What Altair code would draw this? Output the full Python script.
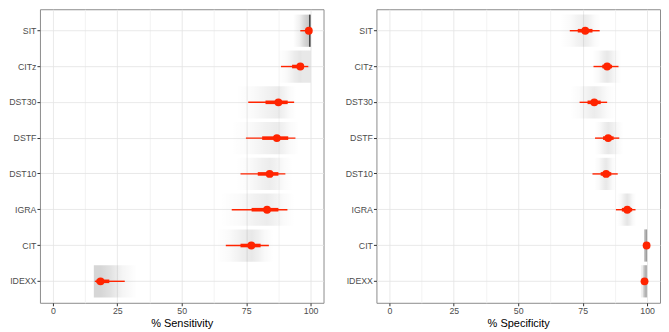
import altair as alt
import pandas as pd

tests = ["SIT", "CITz", "DST30", "DSTF", "DST10", "IGRA", "CIT", "IDEXX"]

sens_est = [99.3, 96.0, 87.5, 86.9, 84.1, 83.1, 77.0, 18.5]
sens_lo95 = [96.0, 88.5, 75.8, 74.9, 72.8, 69.4, 67.1, 16.3]
sens_hi95 = [100.0, 99.1, 93.6, 94.1, 90.2, 91.0, 83.8, 27.9]
sens_lo50 = [98.3, 92.8, 82.5, 81.2, 79.5, 77.1, 72.8, 16.9]
sens_hi50 = [100.0, 97.4, 91.1, 91.3, 87.5, 87.5, 80.6, 21.9]
sens_band_lo = [93.2, 87.3, 71.0, 69.0, 71.0, 64.8, 63.5, 15.9]
sens_band_hi = [100.0, 100.0, 94.5, 95.6, 93.0, 93.8, 85.6, 32.7]

spec_est = [76.0, 84.5, 79.5, 84.9, 84.1, 92.3, 99.8, 99.0]
spec_lo95 = [70.0, 79.2, 73.8, 79.8, 78.8, 87.9, 99.4, 97.7]
spec_hi95 = [81.6, 88.9, 84.5, 89.2, 88.6, 95.5, 100.0, 100.0]
spec_lo50 = [73.1, 82.6, 76.9, 82.9, 82.0, 90.2, 99.7, 98.5]
spec_hi50 = [78.8, 86.4, 82.0, 87.0, 86.1, 94.2, 100.0, 99.7]
spec_band_lo = [66.2, 78.8, 70.0, 79.5, 79.5, 88.3, 98.9, 97.6]
spec_band_hi = [82.0, 90.2, 87.7, 90.8, 88.0, 95.8, 100.0, 100.0]

# shading style (peak darkness, edge darkness)
sens_peak_a = [0.22, 0.10, 0.075, 0.075, 0.075, 0.075, 0.09, 0.16]
sens_lo_a = [0.0, 0.0, 0.0, 0.0, 0.0, 0.0, 0.0, 0.16]
sens_hi_a = [0.72, 0.09, 0.0, 0.0, 0.0, 0.0, 0.0, 0.0]
spec_peak_a = [0.075, 0.09, 0.075, 0.09, 0.09, 0.10, 0.40, 0.25]
spec_lo_a = [0.0, 0.0, 0.0, 0.0, 0.0, 0.0, 0.30, 0.06]
spec_hi_a = [0.0, 0.0, 0.0, 0.0, 0.0, 0.0, 0.50, 0.30]

RED = "#ff2400"
FONT = "Liberation Sans"
W, H = 284, 294


def rgba(a):
    return f"rgba(0,0,0,{a:.3f})"


def panel(est, lo95, hi95, lo50, hi50, blo, bhi, pa, la, ha, title):
    df = pd.DataFrame({
        "test": tests, "est": est, "lo95": lo95, "hi95": hi95,
        "lo50": lo50, "hi50": hi50, "blo": blo, "bhi": bhi,
    })
    ysc = alt.Scale(type="band", domain=tests, paddingInner=0, paddingOuter=0.1)
    xsc = alt.Scale(domain=[-5, 105], nice=False, zero=False)
    xaxis = alt.Axis(
        title=title,
        values=[0, 12.5, 25, 37.5, 50, 62.5, 75, 87.5, 100],
        labelExpr="datum.value % 25 == 0 ? datum.label : ''",
        tickColor={"condition": {"test": "datum.value % 25 != 0", "value": "transparent"}, "value": "#333333"},
        gridColor={"condition": {"test": "datum.value % 25 != 0", "value": "#f0f0f0"}, "value": "#e3e3e3"},
    )
    yaxis = alt.Axis(title=None, grid=True, gridColor="#e3e3e3", bandPosition=0.5)
    base = alt.Chart(df)
    layers = []
    for i, t in enumerate(tests):
        p = (est[i] - blo[i]) / (bhi[i] - blo[i])
        p = min(max(p, 0.0), 1.0)
        stops = [alt.GradientStop(offset=0, color=rgba(la[i]))]
        if 0.02 < p < 0.98:
            stops.append(alt.GradientStop(offset=p * 0.4, color=rgba(max(la[i], pa[i] * 0.25))))
            stops.append(alt.GradientStop(offset=p * 0.75, color=rgba(max(la[i], pa[i] * 0.75))))
            stops.append(alt.GradientStop(offset=p, color=rgba(pa[i])))
            stops.append(alt.GradientStop(offset=p + (1 - p) * 0.25, color=rgba(max(ha[i], pa[i] * 0.75))))
            stops.append(alt.GradientStop(offset=p + (1 - p) * 0.6, color=rgba(max(ha[i], pa[i] * 0.25))))
        else:
            stops.append(alt.GradientStop(offset=0.5, color=rgba(max(la[i], ha[i]) * 0.15 + pa[i] * 0.3)))
            stops.append(alt.GradientStop(offset=0.85, color=rgba(pa[i])))
        stops.append(alt.GradientStop(offset=1, color=rgba(ha[i])))
        grad = alt.LinearGradient(gradient="linear", stops=stops, x1=0, x2=1, y1=0, y2=0)
        layers.append(
            base.transform_filter(alt.datum.test == t)
            .mark_bar(fill=grad, height={"band": 0.9})
            .encode(
                x=alt.X("blo:Q", scale=xsc, axis=xaxis),
                x2="bhi:Q",
                y=alt.Y("test:N", scale=ysc, axis=yaxis, sort=tests),
            )
        )
    thin = base.mark_rule(color=RED, strokeWidth=1.4).encode(
        x=alt.X("lo95:Q", scale=xsc, axis=xaxis), x2="hi95:Q",
        y=alt.Y("test:N", scale=ysc, axis=yaxis, sort=tests))
    thick = base.mark_rule(color=RED, strokeWidth=3.6).encode(
        x=alt.X("lo50:Q", scale=xsc, axis=xaxis), x2="hi50:Q",
        y=alt.Y("test:N", scale=ysc, axis=yaxis, sort=tests))
    pts = base.mark_point(filled=True, color=RED, opacity=1, size=62, shape="circle").encode(
        x=alt.X("est:Q", scale=xsc, axis=xaxis),
        y=alt.Y("test:N", scale=ysc, axis=yaxis, sort=tests))
    return alt.layer(*layers, thin, thick, pts).properties(width=W, height=H)


left = panel(sens_est, sens_lo95, sens_hi95, sens_lo50, sens_hi50, sens_band_lo, sens_band_hi,
             sens_peak_a, sens_lo_a, sens_hi_a, "% Sensitivity")
right = panel(spec_est, spec_lo95, spec_hi95, spec_lo50, spec_hi50, spec_band_lo, spec_band_hi,
              spec_peak_a, spec_lo_a, spec_hi_a, "% Specificity")

chart = alt.hconcat(left, right, spacing=20).configure(
    font=FONT, padding=0, background="white"
).configure_view(
    stroke="#8c8c8c", strokeWidth=1
).configure_axis(
    domain=False, labelFont=FONT, titleFont=FONT, labelFontSize=8.8, labelColor="#4d4d4d",
    tickSize=3, tickColor="#333333", labelPadding=1, titleFontSize=11, titleFontWeight="normal",
    titleColor="#000000", titlePadding=2, gridWidth=0.8,
)

chart.save("out.html", embed_options={"renderer": "svg", "actions": False})
